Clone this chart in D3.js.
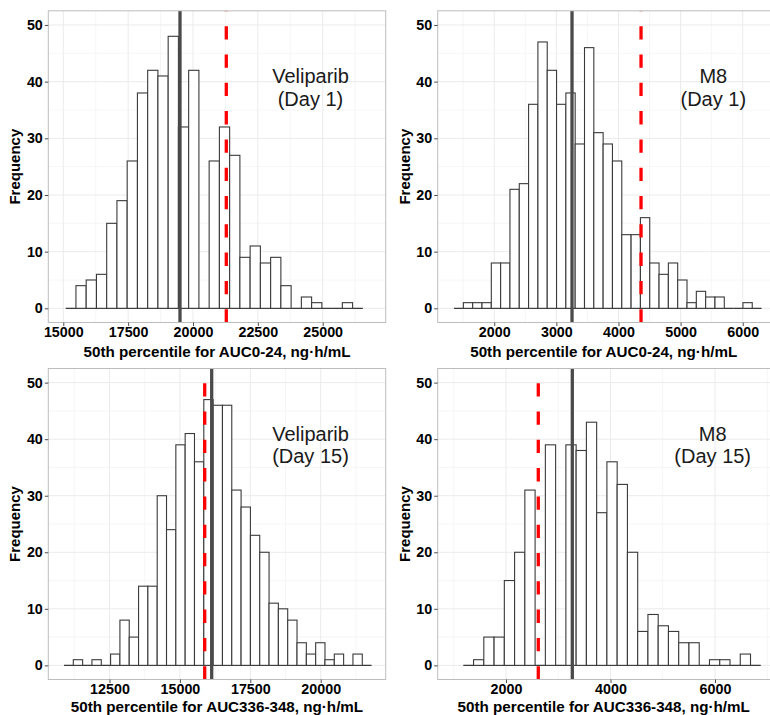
<!DOCTYPE html>
<html><head><meta charset="utf-8">
<script src="https://cdn.jsdelivr.net/npm/d3@7"></script>
<style>
html,body{margin:0;padding:0;background:#fff;}
svg{display:block;font-family:"Liberation Sans",Arial,sans-serif;}
</style></head>
<body>
<svg id="chart" width="770" height="715"></svg>
<script>
// ---------------- data ----------------
// Veliparib Day 1 (AUC0-24)
const velDay1Counts = [0,4,5,6,15,19,26,38,42,41,48,32,42,0,26,32,27,9,11,8,9,4,0,2,1,0,0,1,0];
const velDay1BinStart = 15093, velDay1BinWidth = 395;
const velDay1Solid = 19499, velDay1Dashed = 21284;
const velDay1Ticks = [15000,17500,20000,22500,25000];
// M8 Day 1 (AUC0-24)
const m8Day1Counts = [0,1,1,1,8,8,21,22,36,47,42,36,38,29,46,31,29,26,13,13,16,8,6,8,5,1,3,2,2,0,0,1,0];
const m8Day1BinStart = 1353, m8Day1BinWidth = 150;
const m8Day1Solid = 3252, m8Day1Dashed = 4363;
const m8Day1Ticks = [2000,3000,4000,5000,6000];
// Veliparib Day 15 (AUC336-348)
const velDay15Counts = [0,1,0,1,0,2,8,5,14,14,30,24,39,41,36,47,46,46,31,28,23,20,11,10,8,4,2,4,1,2,0,2,0];
const velDay15BinStart = 10884, velDay15BinWidth = 331;
const velDay15Solid = 16129, velDay15Dashed = 15881;
const velDay15Ticks = [12500,15000,17500,20000];
// M8 Day 15 (AUC336-348)
const m8Day15Counts = [0,1,5,5,15,20,31,0,39,0,39,38,43,27,36,32,20,6,9,7,6,4,4,0,1,1,0,2,0];
const m8Day15BinStart = 1183, m8Day15BinWidth = 196.3;
const m8Day15Solid = 3269, m8Day15Dashed = 2618;
const m8Day15Ticks = [2000,4000,6000];

const yTicks = [0,10,20,30,40,50];
const xTitleDay1 = "50th percentile for AUC0-24, ng\u00b7h/mL";
const xTitleDay15 = "50th percentile for AUC336-348, ng\u00b7h/mL";
const yTitle = "Frequency";

// ---------------- layout ----------------
const svg = d3.select("#chart");
const PW = 337.4;
const panels = [
  {counts:velDay1Counts, start:velDay1BinStart, w:velDay1BinWidth, solid:velDay1Solid, dashed:velDay1Dashed,
   ticks:velDay1Ticks, dom:[14422,27429], left:48.3, top:10.8, h:311.7, title:xTitleDay1, titleY:356.5,
   label:["Veliparib","(Day 1)"], lx:310.5, ly:[83,106]},
  {counts:m8Day1Counts, start:m8Day1BinStart, w:m8Day1BinWidth, solid:m8Day1Solid, dashed:m8Day1Dashed,
   ticks:m8Day1Ticks, dom:[1090,6521], left:437.7, top:10.8, h:311.7, title:xTitleDay1, titleY:356.5,
   label:["M8","(Day 1)"], lx:713.3, ly:[83,106]},
  {counts:velDay15Counts, start:velDay15BinStart, w:velDay15BinWidth, solid:velDay15Solid, dashed:velDay15Dashed,
   ticks:velDay15Ticks, dom:[10327,22308], left:48.3, top:368.5, h:311, title:xTitleDay15, titleY:712,
   label:["Veliparib","(Day 15)"], lx:310.5, ly:[441,463]},
  {counts:m8Day15Counts, start:m8Day15BinStart, w:m8Day15BinWidth, solid:m8Day15Solid, dashed:m8Day15Dashed,
   ticks:m8Day15Ticks, dom:[693,7150], left:437.7, top:368.5, h:311, title:xTitleDay15, titleY:712,
   label:["M8","(Day 15)"], lx:712.7, ly:[441,463]}
];

panels.forEach(p => {
  const g = svg.append("g");
  const x = d3.scaleLinear().domain(p.dom).range([p.left, p.left + PW]);
  const y = d3.scaleLinear().domain([-2.5, 52.5]).range([p.top + p.h, p.top]);
  const clipId = "clip" + Math.round(p.left) + "_" + Math.round(p.top);
  svg.append("clipPath").attr("id", clipId).append("rect")
    .attr("x", p.left).attr("y", p.top).attr("width", PW).attr("height", p.h);
  const inner = g.append("g").attr("clip-path", `url(#${clipId})`);

  // grid (minor then major)
  const step = p.ticks[1] - p.ticks[0];
  const minorX = [];
  for (let v = p.ticks[0] - step * 3.5; v < p.dom[1]; v += step) minorX.push(v);
  inner.selectAll(".gxm").data(minorX).join("line")
    .attr("x1", d => x(d)).attr("x2", d => x(d)).attr("y1", p.top).attr("y2", p.top + p.h)
    .attr("stroke", "#f4f4f4").attr("stroke-width", 0.8);
  const minorY = [5,15,25,35,45];
  inner.selectAll(".gym").data(minorY).join("line")
    .attr("x1", p.left).attr("x2", p.left + PW).attr("y1", d => y(d)).attr("y2", d => y(d))
    .attr("stroke", "#f4f4f4").attr("stroke-width", 0.8);
  inner.selectAll(".gx").data(p.ticks).join("line")
    .attr("x1", d => x(d)).attr("x2", d => x(d)).attr("y1", p.top).attr("y2", p.top + p.h)
    .attr("stroke", "#ebebeb").attr("stroke-width", 1);
  inner.selectAll(".gy").data(yTicks).join("line")
    .attr("x1", p.left).attr("x2", p.left + PW).attr("y1", d => y(d)).attr("y2", d => y(d))
    .attr("stroke", "#ebebeb").attr("stroke-width", 1);

  // bars
  const bins = p.counts.map((c, i) => ({x0: p.start + i * p.w, x1: p.start + (i + 1) * p.w, c}));
  // zero-height bins appear as a baseline
  inner.selectAll(".base").data(bins).join("line")
    .attr("x1", d => x(d.x0)).attr("x2", d => x(d.x1)).attr("y1", y(0)).attr("y2", y(0))
    .attr("stroke", "#3a3a3a").attr("stroke-width", 1.1);
  inner.selectAll(".bar").data(bins.filter(d => d.c > 0)).join("rect")
    .attr("x", d => x(d.x0)).attr("width", d => x(d.x1) - x(d.x0))
    .attr("y", d => y(d.c)).attr("height", d => y(0) - y(d.c))
    .attr("fill", "#fff").attr("stroke", "#3a3a3a").attr("stroke-width", 1.1);

  // vertical lines
  inner.append("line")
    .attr("x1", x(p.solid)).attr("x2", x(p.solid)).attr("y1", p.top).attr("y2", p.top + p.h)
    .attr("stroke", "#4a4a4a").attr("stroke-width", 3.3);
  inner.append("line")
    .attr("x1", x(p.dashed)).attr("x2", x(p.dashed)).attr("y1", p.top + p.h).attr("y2", p.top)
    .attr("stroke", "#ff0000").attr("stroke-width", 3.3).attr("stroke-dasharray", "13.3,15");

  // panel border
  g.append("rect").attr("x", p.left).attr("y", p.top).attr("width", PW).attr("height", p.h)
    .attr("fill", "none").attr("stroke", "#bdbdbd").attr("stroke-width", 1);

  // axes
  const ax = g.append("g").attr("transform", `translate(0,${p.top + p.h})`)
    .call(d3.axisBottom(x).tickValues(p.ticks).tickFormat(d3.format("d")).tickSize(3.5).tickPadding(1));
  const ay = g.append("g").attr("transform", `translate(${p.left},0)`)
    .call(d3.axisLeft(y).tickValues(yTicks).tickSize(3.5).tickPadding(2));
  [ax, ay].forEach(a => {
    a.select(".domain").remove();
    a.selectAll(".tick line").attr("stroke", "#4d4d4d");
    a.selectAll(".tick text").attr("fill", "#000").attr("font-size", 14.3).attr("font-weight", "bold")
      .attr("font-family", "Liberation Sans, Arial, sans-serif");
  });

  // titles
  g.append("text").attr("x", p.left + PW / 2 - (p.left > 400 ? 2.7 : 0)).attr("y", p.titleY)
    .attr("text-anchor", "middle").attr("font-size", 15.2).attr("font-weight", "bold").attr("fill", "#000")
    .text(p.title);
  g.append("text").attr("transform", `translate(${p.left - 28},${p.top + p.h / 2}) rotate(-90)`)
    .attr("text-anchor", "middle").attr("font-size", 15).attr("font-weight", "bold").attr("fill", "#000")
    .text(yTitle);

  // annotation
  g.selectAll(".lab").data(p.label).join("text")
    .attr("x", p.lx).attr("y", (d, i) => p.ly[i]).attr("text-anchor", "middle")
    .attr("font-size", 20).attr("fill", "#1a1a1a").text(d => d);
});
</script>
</body></html>
